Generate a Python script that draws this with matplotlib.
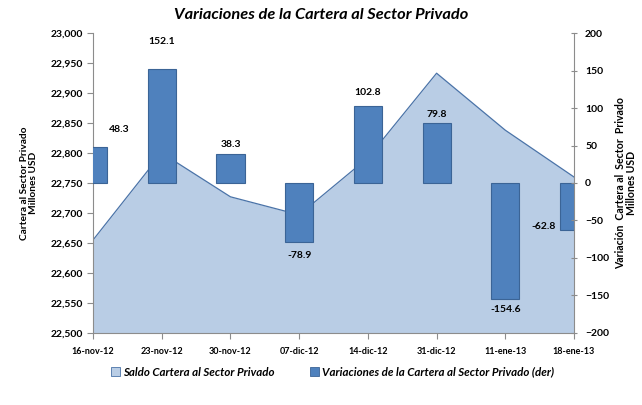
import matplotlib
matplotlib.use("Agg")
import matplotlib.pyplot as plt
from matplotlib.patches import Patch
from matplotlib.ticker import FuncFormatter

# data
fechas = ["16-nov-12", "23-nov-12", "30-nov-12", "07-dic-12",
          "14-dic-12", "31-dic-12", "11-ene-13", "18-ene-13"]
saldo = [22655, 22800, 22727, 22697, 22792, 22933, 22838, 22760]
variacion = [48.3, 152.1, 38.3, -78.9, 102.8, 79.8, -154.6, -62.8]

# label offsets (px) relative to the end of each bar
lbl_dx = [26, 0, 0, 0, 0, 0, 0, -30]
lbl_dy = [17, 27, 10, -13, 13, 9, -11, 4]

plt.rcParams["font.family"] = ["Lato", "DejaVu Sans"]

fill_c = "#B9CDE5"
line_c = "#4A73A8"
bar_c = "#4F81BD"
bar_edge = "#3B6496"
axis_c = "#8C8C8C"

fig = plt.figure(figsize=(6.42, 4.05), dpi=100)
ax = fig.add_axes([0.1449, 0.1778, 0.7492, 0.7407])
x = list(range(len(fechas)))

ax.fill_between(x, saldo, 22500, color=fill_c, lw=0)
ax.plot(x, saldo, color=line_c, lw=0.9)
ax.set_xlim(0, 7)
ax.set_ylim(22500, 23000)
ax.set_yticks(range(22500, 23001, 50))
ax.yaxis.set_major_formatter(FuncFormatter(lambda v, p: f"{int(v):,}"))
ax.set_xticks(x)
ax.set_xticklabels(fechas, fontsize=6.5, fontweight="bold")
ax.tick_params(axis="x", length=4, color=axis_c, pad=6)
ax.tick_params(axis="y", length=4, color=axis_c, labelsize=7.5, pad=3)
for t in ax.get_yticklabels():
    t.set_fontweight("bold")
for s in ["top", "right"]:
    ax.spines[s].set_visible(False)
for s in ["left", "bottom"]:
    ax.spines[s].set_color(axis_c)
ax.set_ylabel("Cartera al Sector Privado\nMillones USD", fontsize=7.3,
              fontweight="bold", labelpad=9, linespacing=1.1)

ax2 = ax.twinx()
ax2.bar(x, variacion, width=0.41, color=bar_c, edgecolor=bar_edge, lw=0.8)
ax2.set_xlim(0, 7)
ax2.set_ylim(-200, 200)
ax2.set_yticks(range(-200, 201, 50))
ax2.tick_params(axis="y", length=4, direction="inout", color=axis_c,
                labelsize=7.5, pad=6)
for t in ax2.get_yticklabels():
    t.set_fontweight("bold")
for s in ["top", "left", "bottom"]:
    ax2.spines[s].set_visible(False)
ax2.spines["right"].set_color(axis_c)
ax2.set_ylabel("Variación  Cartera al  Sector  Privado\nMillones USD",
               fontsize=7.6, fontweight="bold", labelpad=4, linespacing=1.0)

for i, v in enumerate(variacion):
    ax2.annotate(f"{v:.1f}", xy=(i, v),
                 xytext=(lbl_dx[i] * 0.72, lbl_dy[i] * 0.72),
                 textcoords="offset points", ha="center", va="center",
                 fontsize=7.5, fontweight="bold", annotation_clip=False)

fig.text(0.5, 0.963, "Variaciones de la Cartera al Sector Privado",
         ha="center", va="center", fontsize=11.8, fontweight="bold",
         fontstyle="italic")

handles = [Patch(facecolor=fill_c, edgecolor=line_c, lw=0.6),
           Patch(facecolor=bar_c, edgecolor=bar_edge, lw=0.6)]
fig.legend(handles, ["Saldo Cartera al Sector Privado",
                     "Variaciones de la Cartera al Sector Privado (der)"],
           loc="center", bbox_to_anchor=(0.518, 0.081), ncol=2, frameon=False,
           prop={"size": 8.3, "weight": "bold", "style": "italic"},
           handlelength=0.8, handleheight=0.8, handletextpad=0.3,
           columnspacing=3.0)

fig.savefig("out.png", dpi=100)
